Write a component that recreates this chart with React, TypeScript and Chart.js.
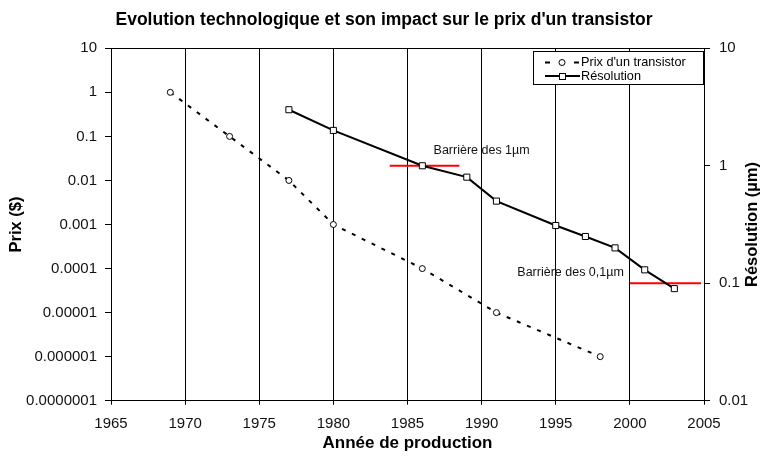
import React, { useEffect, useRef } from 'react';
import { Chart, registerables } from 'chart.js';

Chart.register(...registerables);

const FONT = "'Liberation Sans', Arial, Helvetica, sans-serif";

const chartTitle = "Evolution technologique et son impact sur le prix d'un transistor";
const xTitle = 'Année de production';
const yLeftTitle = 'Prix ($)';
const yRightTitle = 'Résolution (µm)';

const priceLabel = "Prix d'un transistor";
const priceYears = [1969, 1973, 1977, 1980, 1986, 1991, 1998];
const priceValues = [1, 0.1, 0.01, 0.001, 0.0001, 0.00001, 0.000001];

const resLabel = 'Résolution';
const resYears = [1977, 1980, 1986, 1989, 1991, 1995, 1997, 1999, 2001, 2003];
const resValues = [3, 2, 1, 0.8, 0.5, 0.31, 0.25, 0.2, 0.13, 0.09];

const barrier1Years = [1983.8, 1988.5];
const barrier1Values = [1, 1];
const barrier01Years = [2000, 2004.8];
const barrier01Values = [0.1, 0.1];

const barrierTexts = ['Barrière des 1µm', 'Barrière des 0,1µm'];
const barrierTextYears = [1990, 1996];
const barrierTextValues = [1.36, 0.123];

const yearTicks = [1965, 1970, 1975, 1980, 1985, 1990, 1995, 2000, 2005];
const priceTicks = [10, 1, 0.1, 0.01, 0.001, 0.0001, 0.00001, 0.000001, 0.0000001];
const priceTickLabels = ['10', '1', '0.1', '0.01', '0.001', '0.0001', '0.00001', '0.000001', '0.0000001'];
const resTicks = [10, 1, 0.1, 0.01];
const resTickLabels = ['10', '1', '0.1', '0.01'];

const pts = (xs: number[], ys: number[]) => xs.map((x, i) => ({ x, y: ys[i] }));

const extrasPlugin = {
  id: 'extras',
  afterDatasetsDraw(chart: any) {
    const { ctx, chartArea, scales } = chart;
    ctx.save();
    // top border
    ctx.strokeStyle = '#000';
    ctx.lineWidth = 1;
    ctx.beginPath();
    const ty = Math.round(chartArea.top) + 0.5;
    ctx.moveTo(Math.round(chartArea.left), ty);
    ctx.lineTo(Math.round(chartArea.right) + 1, ty);
    ctx.stroke();

    // barrier annotations
    ctx.fillStyle = '#111';
    ctx.font = `12.5px ${FONT}`;
    ctx.textAlign = 'center';
    ctx.textBaseline = 'middle';
    barrierTexts.forEach((t, i) => {
      const x = scales.x.getPixelForValue(barrierTextYears[i]);
      const y = scales.y2.getPixelForValue(barrierTextValues[i]);
      ctx.fillText(t, x, y);
    });

    // legend
    const lx = 533, ly = 51, lw = 170, lh = 33;
    ctx.fillStyle = '#fff';
    ctx.fillRect(lx, ly, lw, lh);
    ctx.strokeStyle = '#000';
    ctx.lineWidth = 1;
    ctx.strokeRect(lx + 0.5, ly + 0.5, lw, lh);
    const rows = [ly + 11.5, ly + 25];
    // price row
    ctx.lineWidth = 2;
    ctx.beginPath();
    ctx.moveTo(545, rows[0]);
    ctx.lineTo(550, rows[0]);
    ctx.moveTo(574, rows[0]);
    ctx.lineTo(579, rows[0]);
    ctx.stroke();
    ctx.lineWidth = 1;
    ctx.beginPath();
    ctx.arc(562, rows[0], 3, 0, Math.PI * 2);
    ctx.fillStyle = '#fff';
    ctx.fill();
    ctx.stroke();
    // res row
    ctx.lineWidth = 2;
    ctx.beginPath();
    ctx.moveTo(545, rows[1]);
    ctx.lineTo(580, rows[1]);
    ctx.stroke();
    ctx.lineWidth = 1;
    ctx.fillStyle = '#fff';
    ctx.fillRect(559, rows[1] - 3, 6, 6);
    ctx.strokeRect(559.5, rows[1] - 2.5, 6, 6);
    ctx.fillStyle = '#000';
    ctx.font = `12.7px ${FONT}`;
    ctx.textAlign = 'left';
    ctx.textBaseline = 'middle';
    ctx.fillText(priceLabel, 581, rows[0]);
    ctx.fillText(resLabel, 581, rows[1]);

    // right axis title
    ctx.save();
    ctx.translate(752, (chartArea.top + chartArea.bottom) / 2);
    ctx.rotate(-Math.PI / 2);
    ctx.font = `bold 16.5px ${FONT}`;
    ctx.textAlign = 'center';
    ctx.textBaseline = 'middle';
    ctx.fillText(yRightTitle, 0, 0);
    ctx.restore();

    ctx.restore();
  },
};

export default function App() {
  const ref = useRef<HTMLCanvasElement | null>(null);

  useEffect(() => {
    document.body.style.margin = '0';
    const canvas = ref.current;
    if (!canvas) return;
    const tickFont = { family: FONT, size: 15 };
    const chart = new Chart(canvas, {
      type: 'line',
      data: {
        datasets: [
          {
            label: resLabel,
            data: pts(resYears, resValues),
            yAxisID: 'y2',
            borderColor: '#000',
            borderWidth: 2,
            pointStyle: 'rect',
            pointRadius: 4.3,
            pointBackgroundColor: '#fff',
            pointBorderColor: '#000',
            pointBorderWidth: 1,
            tension: 0,
          },
          {
            label: priceLabel,
            data: pts(priceYears, priceValues),
            yAxisID: 'y',
            borderColor: '#000',
            borderWidth: 2,
            borderDash: [4, 7],
            pointStyle: 'circle',
            pointRadius: 3,
            pointBackgroundColor: '#fff',
            pointBorderColor: '#000',
            pointBorderWidth: 1,
            tension: 0,
          },
          {
            label: 'b1',
            data: pts(barrier1Years, barrier1Values),
            yAxisID: 'y2',
            borderColor: '#ff0000',
            borderWidth: 2,
            pointRadius: 0,
          },
          {
            label: 'b01',
            data: pts(barrier01Years, barrier01Values),
            yAxisID: 'y2',
            borderColor: '#ff0000',
            borderWidth: 2,
            pointRadius: 0,
          },
        ],
      },
      options: {
        responsive: false,
        animation: false,
        devicePixelRatio: 1,
        layout: { padding: 0 },
        plugins: {
          legend: { display: false },
          tooltip: { enabled: false },
          title: {
            display: true,
            text: chartTitle,
            color: '#000',
            font: { family: FONT, size: 17.5, weight: 'bold' },
            padding: { top: 9.5, bottom: 17.8 },
          },
        },
        scales: {
          x: {
            type: 'linear',
            min: 1965,
            max: 2005,
            afterBuildTicks: (s: any) => {
              s.ticks = yearTicks.map((v) => ({ value: v }));
            },
            afterFit: (s: any) => {
              s.height = 61.3;
            },
            ticks: {
              font: tickFont,
              color: '#111',
              padding: 10,
              maxRotation: 0,
              autoSkip: false,
              callback: (v: any) => String(v),
            },
            grid: { color: '#000', lineWidth: 1, tickLength: 4, drawTicks: true },
            border: { color: '#000', width: 1 },
            title: {
              display: true,
              text: xTitle,
              color: '#000',
              font: { family: FONT, size: 17, weight: 'bold' },
              padding: { top: 0, bottom: 8.5 },
            },
          },
          y: {
            type: 'logarithmic',
            position: 'left',
            min: 0.0000001,
            max: 10,
            afterBuildTicks: (s: any) => {
              s.ticks = priceTicks.map((v) => ({ value: v }));
            },
            afterFit: (s: any) => {
              s.width = 111;
            },
            ticks: {
              font: tickFont,
              color: '#111',
              padding: 8,
              autoSkip: false,
              callback: (v: any) => {
                const i = priceTicks.findIndex((t) => Math.abs(Math.log10(t) - Math.log10(v)) < 1e-6);
                return i >= 0 ? priceTickLabels[i] : '';
              },
            },
            grid: { drawOnChartArea: false, color: '#000', tickLength: 6 },
            border: { color: '#000', width: 1 },
            title: {
              display: true,
              text: yLeftTitle,
              color: '#000',
              font: { family: FONT, size: 16.5, weight: 'bold' },
              padding: { top: 7, bottom: 0 },
            },
          },
          y2: {
            type: 'logarithmic',
            position: 'right',
            min: 0.01,
            max: 10,
            afterBuildTicks: (s: any) => {
              s.ticks = resTicks.map((v) => ({ value: v }));
            },
            afterFit: (s: any) => {
              s.width = 64;
            },
            ticks: {
              font: tickFont,
              color: '#111',
              padding: 9,
              autoSkip: false,
              callback: (v: any) => {
                const i = resTicks.findIndex((t) => Math.abs(Math.log10(t) - Math.log10(v)) < 1e-6);
                return i >= 0 ? resTickLabels[i] : '';
              },
            },
            grid: { drawOnChartArea: false, color: '#000', tickLength: 6 },
            border: { color: '#000', width: 1 },
          },
        },
      },
      plugins: [extrasPlugin],
    } as any);
    return () => chart.destroy();
  }, []);

  return (
    <div style={{ width: 768, height: 462 }}>
      <canvas ref={ref} width={768} height={462} style={{ display: 'block' }} />
    </div>
  );
}
